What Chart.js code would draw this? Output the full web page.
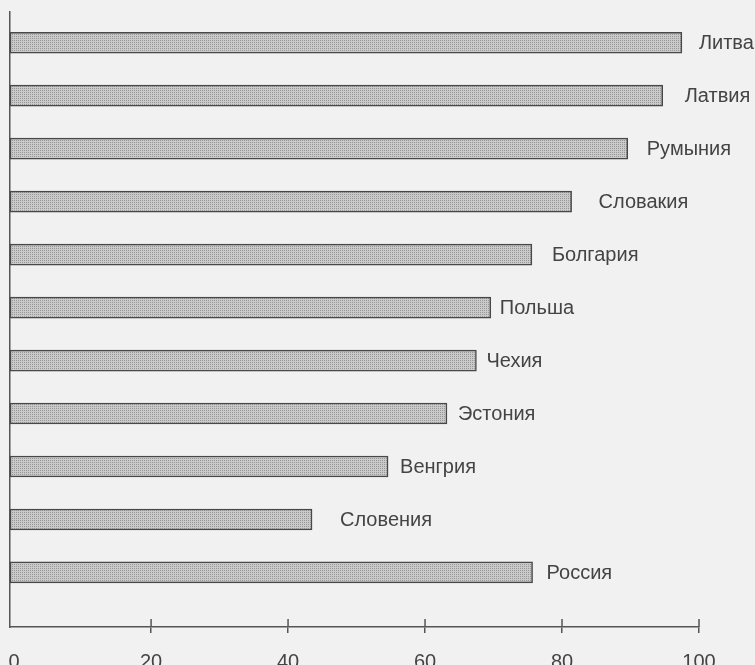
<!DOCTYPE html>
<html>
<head>
<meta charset="utf-8">
<script src="https://cdn.jsdelivr.net/npm/chart.js@4"></script>
<style>
  html, body { margin: 0; padding: 0; background: #f1f1f1; }
  #wrap { width: 755px; height: 665px; }
</style>
</head>
<body>
<div id="wrap"><canvas id="barChart" width="755" height="665"></canvas></div>
<script>
// Countries, top to bottom
const countries = ['Литва', 'Латвия', 'Румыния', 'Словакия', 'Болгария', 'Польша',
                   'Чехия', 'Эстония', 'Венгрия', 'Словения', 'Россия'];
// Values
const values = [97.5, 94.7, 89.6, 81.4, 75.6, 69.6, 67.5, 63.2, 54.6, 43.5, 75.7];
const xTicks = [0, 20, 40, 60, 80, 100];

const fontFamily = '"Liberation Sans", Arial, sans-serif';
const X_MIN = -0.6;

// stippled grey fill like the print
function makePattern() {
    const c = document.createElement('canvas');
    c.width = 2; c.height = 2;
    const g = c.getContext('2d');
    g.fillStyle = '#cacaca';
    g.fillRect(0, 0, 2, 2);
    g.fillStyle = '#979797';
    g.fillRect(0, 0, 1, 1);
    return g.createPattern(c, 'repeat');
}

// country name to the right of each bar (gap differs per label in the print)
const barLabels = {
    id: 'barLabels',
    afterDatasetsDraw(chart, args, opts) {
        const ctx = chart.ctx;
        const meta = chart.getDatasetMeta(0);
        ctx.save();
        ctx.font = '20px ' + fontFamily;
        ctx.fillStyle = '#444';
        ctx.textBaseline = 'middle';
        meta.data.forEach((bar, i) => {
            ctx.fillText(countries[i], bar.x + opts.gaps[i], bar.y + 1);
        });
        ctx.restore();
    }
};

// tick marks also poke up above the x axis line
const upTicks = {
    id: 'upTicks',
    afterDraw(chart) {
        const ctx = chart.ctx;
        const xs = chart.scales.x;
        ctx.save();
        ctx.strokeStyle = '#555';
        ctx.lineWidth = 1.5;
        xTicks.forEach(v => {
            if (v === 0) return;
            const px = xs.getPixelForValue(v);
            ctx.beginPath();
            ctx.moveTo(px, xs.top - 8);
            ctx.lineTo(px, xs.top);
            ctx.stroke();
        });
        ctx.restore();
    }
};

const ctx = document.getElementById('barChart').getContext('2d');
new Chart(ctx, {
    type: 'bar',
    data: {
        datasets: [{
            data: values.map((v, i) => ({ x: v, y: i })),
            base: X_MIN,
            backgroundColor: makePattern(),
            borderColor: '#484848',
            borderWidth: 1.5,
            borderSkipped: false,
            barThickness: 21
        }]
    },
    options: {
        indexAxis: 'y',
        responsive: false,
        animation: false,
        layout: { padding: { left: 10, top: 12, right: 56, bottom: 0 } },
        plugins: {
            legend: { display: false },
            tooltip: { enabled: false },
            barLabels: { gaps: [17, 22, 19, 27, 20, 9, 10, 11, 12, 28, 14] }
        },
        scales: {
            x: {
                type: 'linear',
                min: X_MIN,
                max: 100,
                afterBuildTicks(s) { s.ticks = xTicks.map(v => ({ value: v })); },
                afterFit(s) {
                    s.height = 38;
                    s.paddingLeft = 0;
                    s.paddingRight = 0;
                },
                grid: {
                    drawOnChartArea: false,
                    tickLength: 6,
                    color: ctx => (ctx.tick && ctx.tick.value === 0 ? 'rgba(0,0,0,0)' : '#555'),
                    lineWidth: 1.5
                },
                border: { color: '#555', width: 1.5 },
                ticks: {
                    padding: 17,
                    color: '#444',
                    font: { family: fontFamily, size: 20 }
                }
            },
            y: {
                type: 'linear',
                reverse: true,
                offset: false,
                min: -0.58,
                max: 11.03,
                afterFit(s) { s.width = 0; },
                grid: { display: false },
                border: { color: '#555', width: 1.5 },
                ticks: { display: false }
            }
        }
    },
    plugins: [barLabels, upTicks]
});
</script>
</body>
</html>
